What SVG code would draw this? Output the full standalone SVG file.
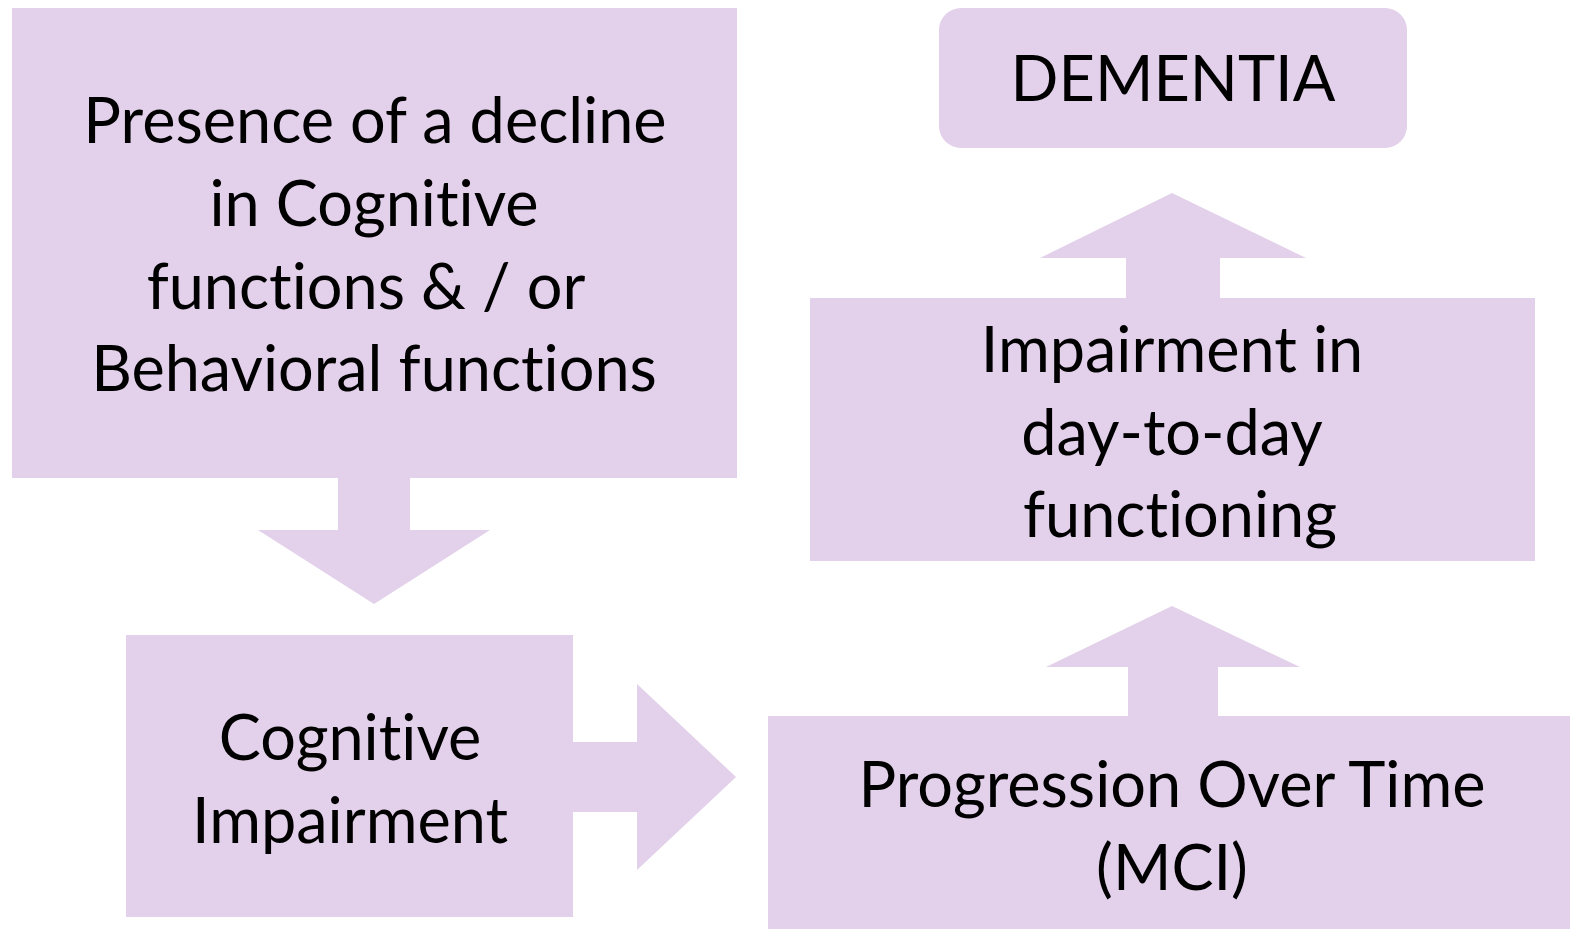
<svg xmlns="http://www.w3.org/2000/svg" width="1570" height="929" viewBox="0 0 1570 929">
<style>
.s{fill:#E3D0EA}
.t{font-family:Lato,"Open Sans","Liberation Sans",sans-serif;font-size:63px;fill:#000;text-anchor:middle;font-variant-ligatures:none;font-feature-settings:"liga" 0}
</style>
<rect width="1570" height="929" fill="#fff"/>
<g id="connectors">
<polygon class="s" points="338,470 410,470 410,530 490,530 374,604 258,530 338,530"/>
<polygon class="s" points="565,742 637,742 637,684 736,777 637,870 637,812 565,812"/>
<polygon class="s" points="1128,724 1128,667 1046,667 1172,606 1300,667 1218,667 1218,724"/>
<polygon class="s" points="1126,306 1126,258 1040,258 1172,193 1306,258 1220,258 1220,306"/>
</g>
<g id="n1">
<rect class="s" x="12" y="8" width="725" height="470"/>
<text class="t" x="375" y="143">Presence of a decline</text>
<text class="t" x="374" y="226">in Cognitive</text>
<text class="t" x="366" y="309">functions &amp; / or</text>
<text class="t" x="374" y="391">Behavioral functions</text>
</g>
<g id="n2">
<rect class="s" x="126" y="635" width="447" height="282"/>
<text class="t" x="350" y="760">Cognitive</text>
<text class="t" x="350" y="843">Impairment</text>
</g>
<g id="n3">
<rect class="s" x="768" y="716" width="802" height="213"/>
<text class="t" x="1172" y="807">Progression Over Time</text>
<text class="t" x="1172" y="890">(MCI)</text>
</g>
<g id="n4">
<rect class="s" x="810" y="298" width="725" height="263"/>
<text class="t" x="1172" y="372">Impairment in</text>
<text class="t" x="1172" y="455">day-to-day</text>
<text class="t" x="1180" y="537">functioning</text>
</g>
<g id="n5">
<rect class="s" x="939" y="8" width="468" height="140" rx="22"/>
<text class="t" x="1173" y="101">DEMENTIA</text>
</g>
</svg>
